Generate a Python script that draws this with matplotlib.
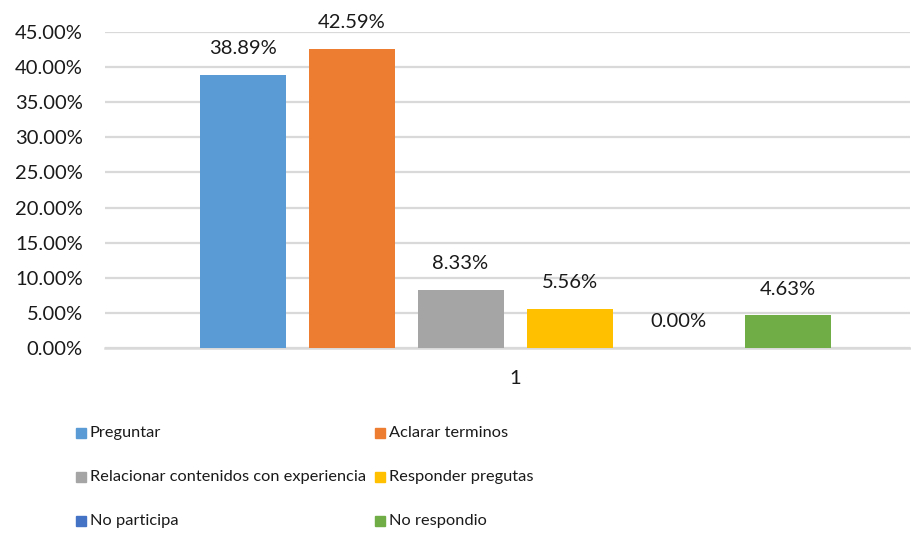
import matplotlib
matplotlib.use("Agg")
import matplotlib.pyplot as plt
from matplotlib.patches import Rectangle
from matplotlib.ticker import FuncFormatter, MultipleLocator

plt.rcParams['font.family'] = ['Lato', 'DejaVu Sans']

series = ["Preguntar", "Aclarar terminos", "Relacionar contenidos con experiencia",
          "Responder pregutas", "No participa", "No respondio"]
values = [38.89, 42.59, 8.33, 5.56, 0.00, 4.63]
colors = ["#5B9BD5", "#ED7D31", "#A5A5A5", "#FFC000", "#4472C4", "#70AD47"]
category = "1"

W, H = 912, 534
fig = plt.figure(figsize=(W / 100, H / 100), dpi=100)
ax = fig.add_axes([105 / W, (H - 348) / H, (910 - 105) / W, (348 - 32) / H])

n = len(series)
width = 86 / 109
for i, (v, c) in enumerate(zip(values, colors)):
    x = i - (n - 1) / 2
    ax.bar(x, v, width=width, color=c, zorder=3)
    ax.annotate(f"{v:.2f}%", (x, v), xytext=(0, 19), textcoords="offset points",
                ha="center", va="center", fontsize=14.5, color="#1a1a1a")

ax.set_xlim(-410 / 109, 395 / 109)
ax.set_ylim(0, 45)
ax.yaxis.set_major_locator(MultipleLocator(5))
ax.yaxis.set_major_formatter(FuncFormatter(lambda v, p: f"{v:.2f}%"))
ax.set_xticks([0])
ax.set_xticklabels([category])
ax.tick_params(axis="both", length=0, labelsize=14.5, labelcolor="#1a1a1a")
ax.tick_params(axis="x", pad=16)
ax.tick_params(axis="y", pad=16)
ax.grid(axis="y", color="#D9D9D9", linewidth=1.6, zorder=0)
for s in ["top", "right", "left"]:
    ax.spines[s].set_visible(False)
ax.spines["bottom"].set_color("#D9D9D9")
ax.spines["bottom"].set_linewidth(1.8)

col_x = [76, 375]
row_y = [433, 477, 521]
for i, (name, c) in enumerate(zip(series, colors)):
    cx = col_x[i % 2]
    cy = row_y[i // 2]
    fig.patches.append(Rectangle((cx / W, (H - cy - 5) / H), 10 / W, 10 / H,
                                 transform=fig.transFigure, color=c))
    fig.text((cx + 14) / W, (H - cy) / H, name, ha="left", va="center",
             fontsize=11.8, color="#1a1a1a")

fig.savefig("out.png", dpi=100)
